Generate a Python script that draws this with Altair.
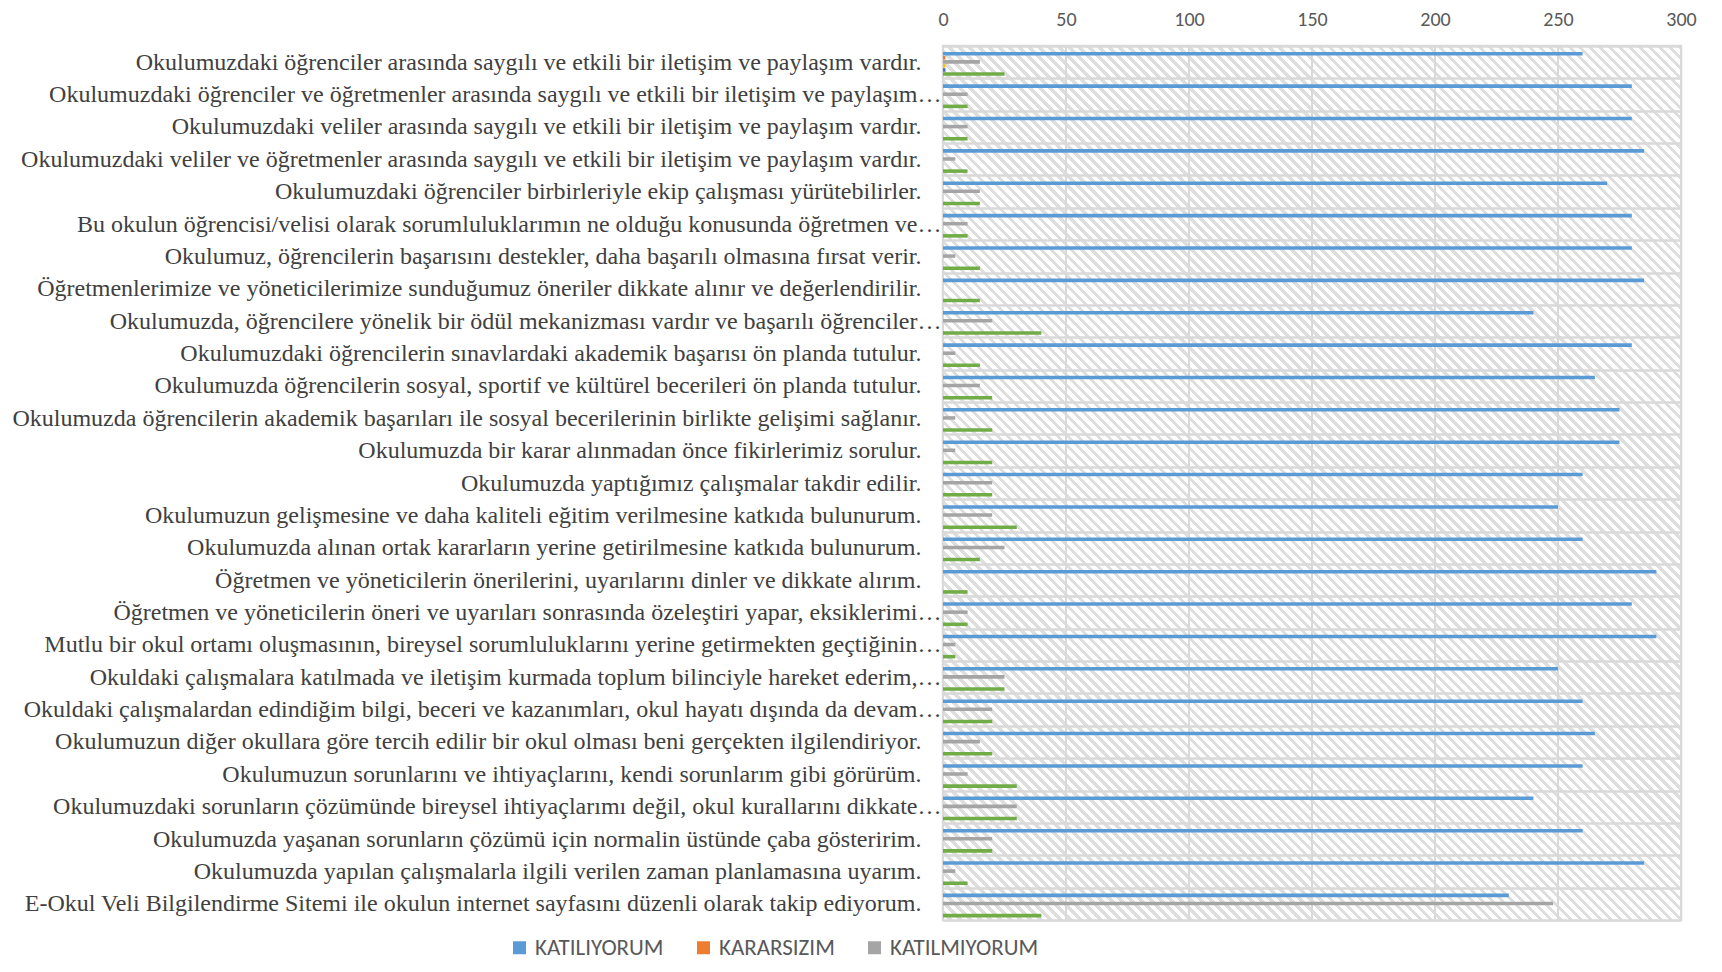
import altair as alt
import pandas as pd

questions = [
    "Okulumuzdaki öğrenciler arasında saygılı ve etkili bir iletişim ve paylaşım vardır.",
    "Okulumuzdaki öğrenciler ve öğretmenler arasında saygılı ve etkili bir iletişim ve paylaşım…",
    "Okulumuzdaki veliler arasında saygılı ve etkili bir iletişim ve paylaşım vardır.",
    "Okulumuzdaki veliler ve öğretmenler arasında saygılı ve etkili bir iletişim ve paylaşım vardır.",
    "Okulumuzdaki öğrenciler birbirleriyle ekip çalışması yürütebilirler.",
    "Bu okulun öğrencisi/velisi olarak sorumluluklarımın ne olduğu konusunda öğretmen ve…",
    "Okulumuz, öğrencilerin başarısını destekler, daha başarılı olmasına fırsat verir.",
    "Öğretmenlerimize ve yöneticilerimize sunduğumuz öneriler dikkate alınır ve değerlendirilir.",
    "Okulumuzda, öğrencilere yönelik bir ödül mekanizması vardır ve başarılı öğrenciler…",
    "Okulumuzdaki öğrencilerin sınavlardaki akademik başarısı ön planda tutulur.",
    "Okulumuzda öğrencilerin sosyal, sportif ve kültürel becerileri ön planda tutulur.",
    "Okulumuzda öğrencilerin akademik başarıları ile sosyal becerilerinin birlikte gelişimi sağlanır.",
    "Okulumuzda bir karar alınmadan önce fikirlerimiz sorulur.",
    "Okulumuzda yaptığımız çalışmalar takdir edilir.",
    "Okulumuzun gelişmesine ve daha kaliteli eğitim verilmesine katkıda bulunurum.",
    "Okulumuzda alınan ortak kararların yerine getirilmesine katkıda bulunurum.",
    "Öğretmen ve yöneticilerin önerilerini, uyarılarını dinler ve dikkate alırım.",
    "Öğretmen ve yöneticilerin öneri ve uyarıları sonrasında özeleştiri yapar, eksiklerimi…",
    "Mutlu bir okul ortamı oluşmasının, bireysel sorumluluklarını yerine getirmekten geçtiğinin…",
    "Okuldaki çalışmalara katılmada ve iletişim kurmada toplum bilinciyle hareket ederim,…",
    "Okuldaki çalışmalardan edindiğim bilgi, beceri ve kazanımları, okul hayatı dışında da devam…",
    "Okulumuzun diğer okullara göre tercih edilir bir okul olması beni gerçekten ilgilendiriyor.",
    "Okulumuzun sorunlarını ve ihtiyaçlarını, kendi sorunlarım gibi görürüm.",
    "Okulumuzdaki sorunların çözümünde bireysel ihtiyaçlarımı değil, okul kurallarını dikkate…",
    "Okulumuzda yaşanan sorunların çözümü için normalin üstünde çaba gösteririm.",
    "Okulumuzda yapılan çalışmalarla ilgili verilen zaman planlamasına uyarım.",
    "E-Okul Veli Bilgilendirme Sitemi ile okulun internet sayfasını düzenli olarak takip ediyorum.",
]

katiliyorum = [260, 280, 280, 285, 270, 280, 280, 285, 240, 280, 265, 275, 275, 260,
               250, 260, 290, 280, 290, 250, 260, 265, 260, 240, 260, 285, 230]
kararsizim = [1, 0, 0, 0, 0, 0, 0, 0, 0, 0, 0, 0, 0, 0,
              0, 0, 0, 0, 0, 0, 0, 0, 0, 0, 0, 0, 0]
katilmiyorum = [15, 10, 10, 5, 15, 10, 5, 0, 20, 5, 15, 5, 5, 20,
                20, 25, 0, 10, 5, 25, 20, 15, 10, 30, 20, 5, 248]
seri4 = [1, 0, 0, 0, 0, 0, 0, 0, 0, 0, 0, 0, 0, 0,
         0, 0, 0, 0, 0, 0, 0, 0, 0, 0, 0, 0, 0]
seri5 = [1, 0, 0, 0, 0, 0, 0, 0, 0, 0, 0, 0, 0, 0,
         0, 0, 0, 0, 0, 0, 0, 0, 0, 0, 0, 0, 0]
seri6 = [25, 10, 10, 10, 15, 10, 15, 15, 40, 15, 20, 20, 20, 20,
         30, 15, 10, 10, 5, 25, 20, 20, 30, 30, 20, 10, 40]

series_names = ["KATILIYORUM", "KARARSIZIM", "KATILMIYORUM", "SERİ 4", "SERİ 5", "SERİ 6"]
series_colors = ["#5B9BD5", "#ED7D31", "#A5A5A5", "#FFC000", "#4472C4", "#70AD47"]
x_ticks = [0, 50, 100, 150, 200, 250, 300]

rows = []
for name, vals in zip(series_names, [katiliyorum, kararsizim, katilmiyorum, seri4, seri5, seri6]):
    for q, v in zip(questions, vals):
        rows.append({"Soru": q, "Seri": name, "Değer": v})
df = pd.DataFrame(rows)

W, H = 738, 874

# diagonal hatch pattern for the plot background (style only)
r = H / W
a = (1 + r) / (1 + r * r)
n_stripes = 161
stops = []
for i in range(n_stripes):
    o0 = i / n_stripes
    o1 = (i + 0.55) / n_stripes
    o2 = (i + 1) / n_stripes
    stops += [
        alt.GradientStop(color="#ffffff", offset=o0),
        alt.GradientStop(color="#ffffff", offset=o1),
        alt.GradientStop(color="#dedede", offset=o1),
        alt.GradientStop(color="#dedede", offset=o2),
    ]
hatch_grad = alt.LinearGradient(gradient="linear", stops=stops,
                                x1=0, y1=1, x2=a, y2=1 - a * r)

x_scale = alt.Scale(domain=[0, 300], nice=False, zero=True)
x_axis = alt.Axis(orient="top", values=x_ticks, title=None, grid=False, ticks=False,
                  tickSize=0, domain=False, labelFlush=False, labelOverlap=False,
                  labelFont="Carlito, Liberation Sans", labelFontSize=20,
                  labelColor="#595959", labelPadding=17)

hatch = alt.Chart(pd.DataFrame({"k": [0]})).mark_rect(fill=hatch_grad, strokeWidth=0).encode(
    x=alt.value(0), x2=alt.value("width"), y=alt.value(0), y2=alt.value("height")
)

vgrid = alt.Chart(pd.DataFrame({"t": x_ticks})).mark_rule(color="#d9d9d9", strokeWidth=2).encode(
    x=alt.X("t:Q", scale=x_scale, axis=x_axis)
)

bars = alt.Chart(df).mark_bar(height={"band": 0.88}).encode(
    x=alt.X("Değer:Q", scale=x_scale, axis=x_axis),
    y=alt.Y("Soru:N", sort=questions, title=None,
            scale=alt.Scale(paddingInner=0, paddingOuter=0),
            axis=alt.Axis(grid=True, gridColor="#d9d9d9", gridWidth=2.5, tickBand="extent",
                          ticks=False, domain=False, labelFont="Liberation Serif",
                          labelFontSize=24, labelColor="#404040",
                          labelPadding={"condition": {"test": "indexof(datum.label, '…') >= 0",
                                                      "value": 2},
                                        "value": 22},
                          labelLimit=2000, zindex=1)),
    yOffset=alt.YOffset("Seri:N", sort=series_names,
                        scale=alt.Scale(paddingInner=0.0, paddingOuter={"expr": "1.386"})),
    color=alt.Color("Seri:N", sort=series_names,
                    scale=alt.Scale(domain=series_names, range=series_colors),
                    legend=alt.Legend(values=series_names[:3], orient="none", legendX=-435,
                                      legendY=890, direction="horizontal", title=None,
                                      symbolType="square", symbolSize=169, symbolStrokeWidth=0,
                                      labelFont="Carlito, Liberation Sans", labelFontSize=23,
                                      labelColor="#595959", columnPadding=28, labelOffset=4)),
)

chart = alt.layer(hatch, vgrid, bars).properties(
    width=W, height=H,
    autosize=alt.AutoSizeParams(type="none"),
    padding={"left": 935, "top": 38, "right": 33, "bottom": 44},
).configure_view(stroke="#d9d9d9", strokeWidth=2.5)

chart.save("out.html", embed_options={"renderer": "svg", "actions": False})
